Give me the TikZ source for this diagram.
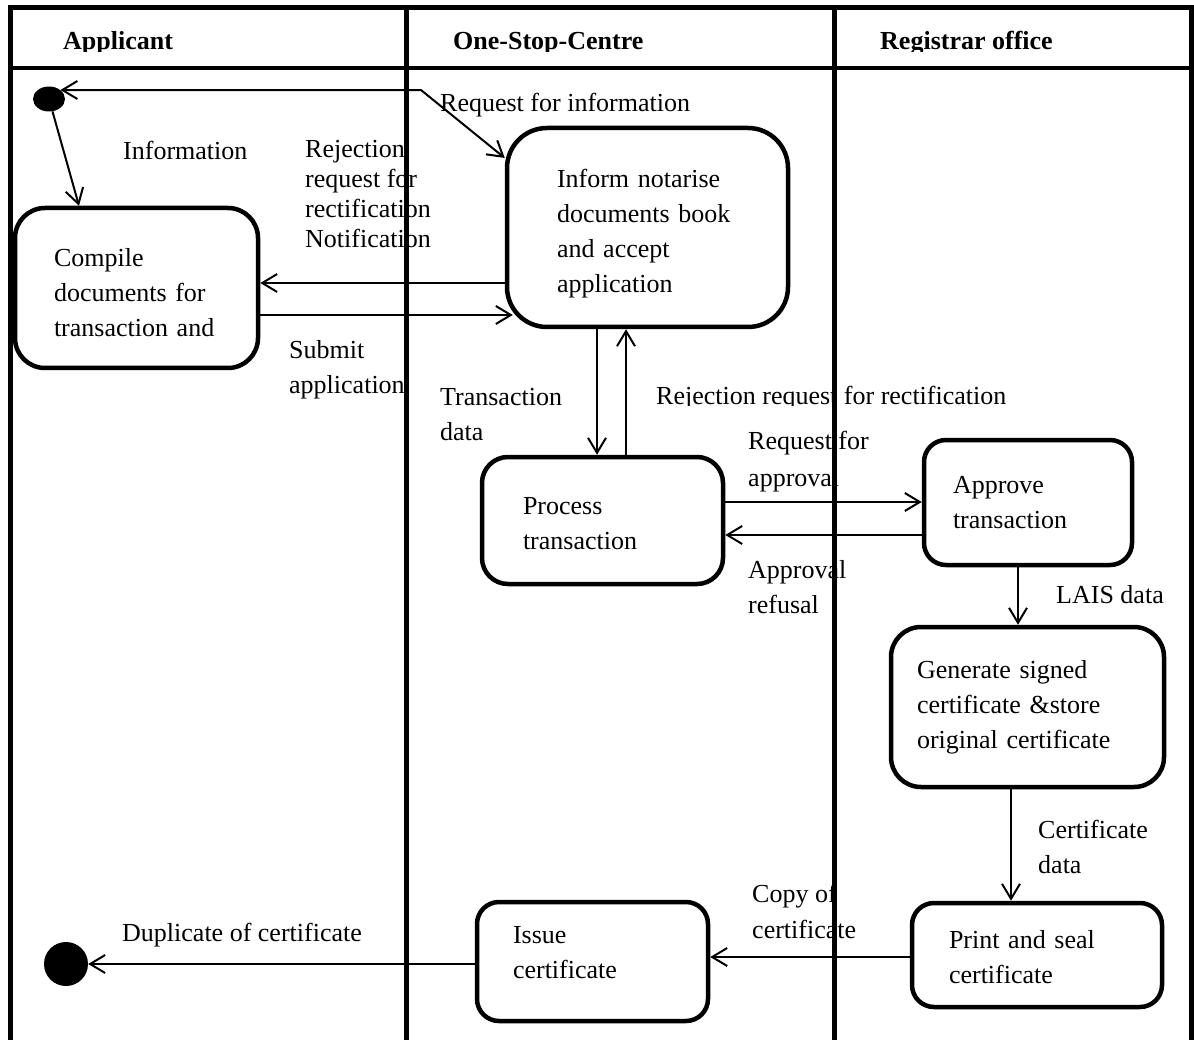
\documentclass[tikz,border=0pt]{standalone}
\usepackage{fontspec}
\setmainfont{Liberation Serif}
\usetikzlibrary{arrows.meta,calc,shapes.geometric}
\newcommand\diagfont{\fontsize{26}{35}\selectfont}
\newcommand\tightfont{\fontsize{26}{30}\selectfont}
\begin{document}
\begin{tikzpicture}[x=1pt,y=-1pt,
  activity/.style={draw,line width=4.5pt,rounded corners=#1,align=left,
    font=\diagfont,inner ysep=0pt},
  activity/.default=24pt,
  flow/.style={line width=2pt,-{Straight Barb[length=15pt,width=18pt]}},
  biflow/.style={line width=2pt,
    {Straight Barb[length=15pt,width=18pt]}-{Straight Barb[length=15pt,width=18pt]}},
  lbl/.style={anchor=north west,inner sep=0pt,align=left,font=\diagfont},
  head/.style={anchor=base west,inner sep=0pt,font=\diagfont\bfseries},
  lane/.style={line width=5pt},
  dot/.style={fill=black,inner sep=0pt}
]
\useasboundingbox (0,0) rectangle (1194,1040);

% initial and final states
\node[dot,ellipse,minimum width=32pt,minimum height=25pt] (start) at (49,99) {};
\node[dot,circle,minimum size=44pt] (finish) at (66,964) {};

% activities
\node[activity=30pt,minimum width=243pt,minimum height=160pt,
      inner xsep=39pt,text width=165pt] (compile) at (136.5,288)
  {\rule{0pt}{28pt}Compile\\documents for\\transaction and};
\node[activity=40pt,minimum width=281pt,minimum height=199pt,
      inner xsep=50pt,text width=181pt] (inform) at (647.5,227.5)
  {\rule{0pt}{30pt}Inform notarise\\documents book\\and accept\\application};
\node[activity=26pt,minimum width=241pt,minimum height=127pt,
      inner xsep=41pt,text width=159pt] (process) at (602.5,520.5)
  {\rule{0pt}{22.5pt}Process\\transaction};
\node[activity=22pt,minimum width=208pt,minimum height=125pt,
      inner xsep=29pt,text width=150pt] (approve) at (1028,502.5)
  {Approve\\transaction};
\node[activity=30pt,minimum width=273pt,minimum height=160pt,
      inner xsep=26pt,text width=221pt] (generate) at (1027.5,707)
  {Generate signed\\certificate \&store\\original certificate};
\node[activity=22pt,minimum width=250pt,minimum height=104pt,
      inner xsep=37pt,text width=176pt] (print) at (1037,955)
  {\rule{0pt}{23pt}Print and seal\\certificate};
\node[activity=22pt,minimum width=231pt,minimum height=119pt,
      inner xsep=36pt,text width=159pt] (issue) at (592.5,961.5)
  {Issue\\certificate\rule[-19pt]{0pt}{20pt}};

% flows
\coordinate (bend) at (421,0 |- start.north east);
\draw[biflow] (start.north east) -- (bend) -- (inform.west |- 0,158);
\draw[flow] (start) -- (compile.north -| 79,0);
\draw[flow] (inform.west |- 0,283) -- (compile.east |- 0,283);
\draw[flow] (compile.east |- 0,315) -- ($(inform.west |- 0,315)+(8,0)$);
\draw[flow] (inform.south -| 597,0) -- (process.north -| 597,0);
\draw[flow] (process.north -| 626,0) -- (inform.south -| 626,0);
\draw[flow] (process.east |- 0,502) -- (approve.west |- 0,502);
\draw[flow] (approve.west |- 0,535) -- (process.east |- 0,535);
\draw[flow] (approve.south -| 1018,0) -- (generate.north -| 1018,0);
\draw[flow] (generate.south -| 1011,0) -- (print.north -| 1011,0);
\draw[flow] (print.west |- 0,957) -- (issue.east |- 0,957);
\draw[flow] (issue.west |- 0,964) -- (finish);

% flow labels
\node[lbl] (lInfo) at (123,140.5) {Information};
\begin{scope}
  \clip (290,120) rectangle (460,251);
  \node[lbl,font=\tightfont] (lReject) at (305,140.5)
    {Rejection\\request for\\rectification\\Notification};
\end{scope}
\node[lbl] (lSubmit) at (289,340.5) {Submit\\application};
\node[lbl] (lReqInfo) at (440,92.5) {Request for information};
\node[lbl] (lTrans) at (440,388.5) {Transaction\\data};
\begin{scope}
  \clip (640,370) rectangle (1040,405.5);
  \node[lbl] (lRectify) at (656,385.5) {Rejection request for rectification};
\end{scope}
\node[lbl,font=\fontsize{26}{37}\selectfont] (lReqAppr) at (748,430.5) {Request for\\approval};
\node[lbl] (lRefusal) at (748,560.5) {Approval\\refusal};
\node[lbl] (lLais) at (1056,585.5) {LAIS data};
\node[lbl] (lCert) at (1038,819.5) {Certificate\\data};
\node[lbl,font=\fontsize{26}{36}\selectfont] (lCopy) at (752,883.5) {Copy of\\certificate};
\node[lbl] (lDup) at (122,922.5) {Duplicate of certificate};

% swimlane headers
\begin{scope}
  \clip (12,12) rectangle (1189,52);
  \node[head] (hApp) at (63,50) {Applicant};
  \node[head] (hOsc) at (453,50) {One-Stop-Centre};
  \node[head] (hReg) at (880,50) {Registrar office};
\end{scope}

% swimlane frame
\draw[lane] (10,1040) -- (10,8) -- (1191,8) -- (1191,1040);
\draw[line width=4pt] (10,68) -- (1191,68);
\draw[lane] (406,8) -- (406,1040);
\draw[lane] (834,8) -- (834,1040);
\end{tikzpicture}
\end{document}
